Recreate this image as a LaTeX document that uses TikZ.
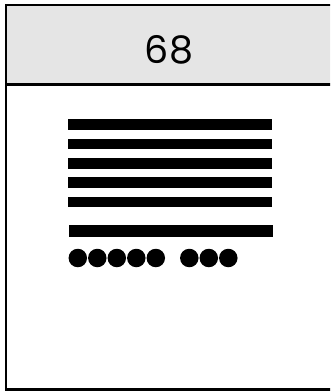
\documentclass[tikz,border=0pt]{standalone}
\usepackage{fontspec}
\setmainfont{Poppins}
\definecolor{headgray}{HTML}{E5E5E5}
\begin{document}
\begin{tikzpicture}[x=1pt,y=-1pt,
  frame/.style={draw=black,line width=2.2pt},
  bar/.style={fill=black},
  dot/.style={fill=black,circle,inner sep=0pt,minimum size=18.5pt}]
\useasboundingbox (0,0) rectangle (330,391);
\clip (0,0) rectangle (330,391);
\fill[headgray] (6,5) rectangle (334,84.5);
\draw[frame] (6,5) rectangle (334,389.5);
\draw[frame] (6,84.5) -- (334,84.5);
\node[font=\fontsize{38}{44}\selectfont] (title) at (169,50) {68};
% bars
\foreach \y/\h in {119.3/130, 138.7/149.3, 158/168.7, 177.3/188, 196.7/207.3}
  \fill[black] (68.3,\y) rectangle (271.7,\h);
\fill[black] (69,225.3) rectangle (272.7,236.7);
% dots
\foreach \cx in {77.8,97.3,116.8,136.3,155.8,189.3,208.8,228.3}
  \node[dot] at (\cx,258) {};
\end{tikzpicture}
\end{document}
